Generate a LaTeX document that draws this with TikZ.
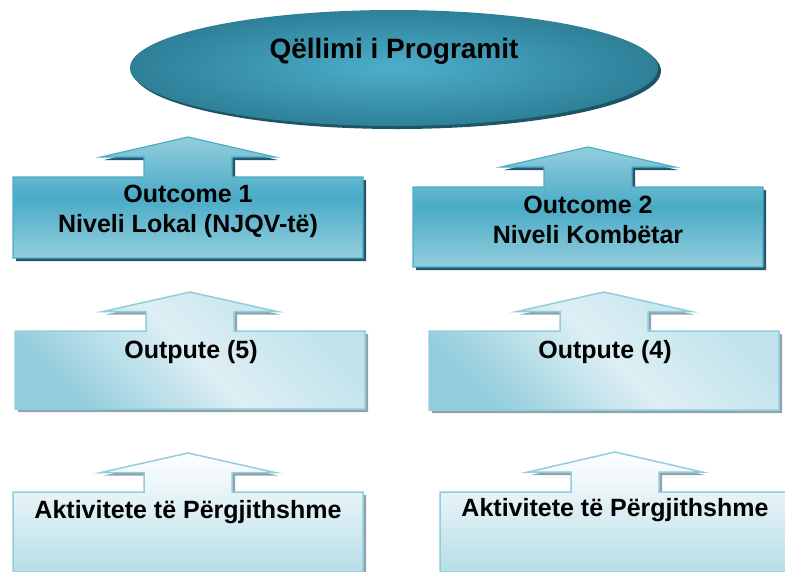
\documentclass[tikz,border=0pt]{standalone}
\usepackage{fontspec}
\setmainfont{Liberation Sans}
\usetikzlibrary{shapes.geometric}
\definecolor{elin}{HTML}{4DAFCA}
\definecolor{elout}{HTML}{2E8098}
\definecolor{elshadow}{HTML}{1D5564}
\definecolor{ocmid}{HTML}{4AABC6}
\definecolor{ocedge}{HTML}{93CEDE}
\definecolor{ocline}{HTML}{4BACC6}
\definecolor{ocshadow}{HTML}{25566A}
\definecolor{opdark}{HTML}{92CDDC}
\definecolor{oplight}{HTML}{DDEFF4}
\definecolor{opright}{HTML}{BFE2EB}
\definecolor{opline}{HTML}{93CDDD}
\definecolor{grshadow}{HTML}{8FA3AB}
\definecolor{acbot}{HTML}{B7DEE8}
\tikzset{
  lbl/.style={font=\bfseries\fontsize{25}{30}\selectfont, align=center, inner sep=0pt},
  outcomebox/.style={top color=ocedge, bottom color=ocedge, middle color=ocmid, draw=ocline, line width=1.2pt},
  outputbox/.style={left color=opdark, right color=opright, middle color=oplight, shading angle=135, draw=opline, line width=1.5pt},
  actbox/.style={top color=white, bottom color=acbot, draw=opline, line width=1.5pt},
}
% #1 left x, #2 top y, #3 bottom y, #4 tip y, #5 options
\newcommand\cpathdo[5]{%
  \pgfmathsetmacro\hbv{(#2+#4)/2}%
  \path[#5] (#1,#2) -- ({#1+131},#2) -- ({#1+131},\hbv) -- ({#1+88},\hbv) -- ({#1+175},#4)
    -- ({#1+262},\hbv) -- ({#1+219},\hbv) -- ({#1+219},#2) -- ({#1+350},#2)
    -- ({#1+350},#3) -- (#1,#3) -- cycle;}
% #1 L, #2 T, #3 B, #4 tip, #5 style, #6 shadow colour
\newcommand\callout[6]{%
  \begin{scope}[shift={(3,3)}]\cpathdo{#1}{#2}{#3}{#4}{fill=#6}\end{scope}%
  \cpathdo{#1}{#2}{#3}{#4}{#5}}
\begin{document}
\begin{tikzpicture}[x=1pt,y=-1pt]
\useasboundingbox (0,0) rectangle (785,571);
% goal ellipse
\fill[elshadow] (397,71) ellipse [x radius=264, y radius=58];
\node[ellipse, minimum width=528pt, minimum height=116pt, inner sep=0pt,
      shading=radial, inner color=elin, outer color=elout] (goal) at (394,68) {};
\node[lbl, font=\bfseries\fontsize{28}{30}\selectfont] (goaltxt) at (394,51) {Qëllimi i Programit};
% outcomes
\callout{13}{177}{258}{137}{outcomebox}{ocshadow}
\callout{413}{187}{267}{147}{outcomebox}{ocshadow}
\node[lbl] (out1) at (188,211) {Outcome 1\\Niveli Lokal (NJQV-të)};
\node[lbl] (out2) at (588,220) {Outcome 2\\Niveli Kombëtar};
% outputs
\callout{15}{331}{409}{292}{outputbox}{grshadow}
\callout{429}{331}{410}{292}{outputbox}{grshadow}
\node[lbl] (op5) at (191,352) {Outpute (5)};
\node[lbl] (op4) at (605,352) {Outpute (4)};
% activities
\callout{13}{492}{572}{453}{actbox}{grshadow}
\callout{440}{492}{572}{452}{actbox}{grshadow}
\node[lbl] (act1) at (188,512) {Aktivitete të Përgjithshme};
\node[lbl] (act2) at (615,510) {Aktivitete të Përgjithshme};
\end{tikzpicture}
\end{document}
